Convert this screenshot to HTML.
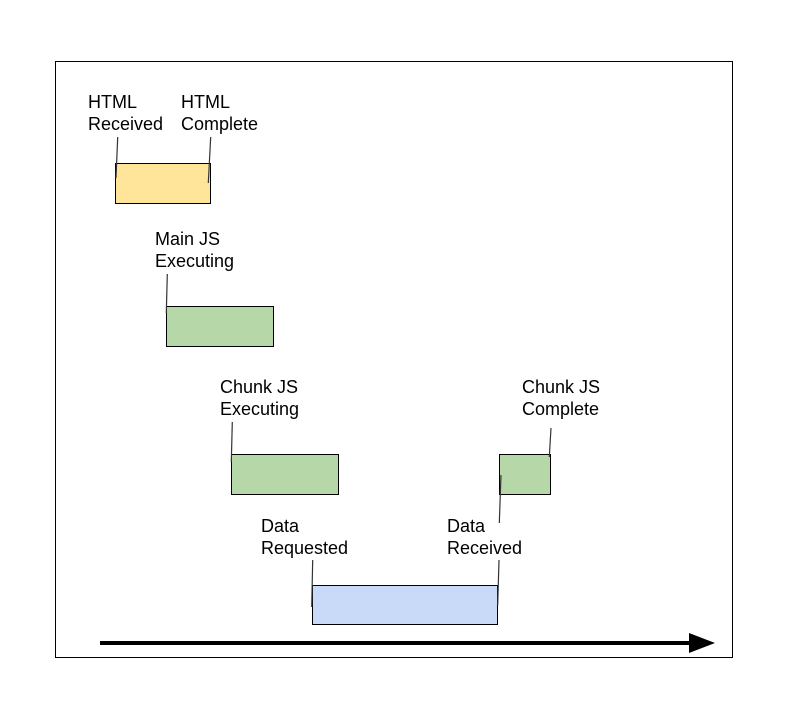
<!DOCTYPE html>
<html>
<head>
<meta charset="utf-8">
<style>
  html,body{margin:0;padding:0;background:#fff;}
  svg{display:block;}
  text{font-family:"Liberation Sans",Arial,sans-serif;font-size:18px;fill:#000;}
</style>
</head>
<body>
<svg width="785" height="719" viewBox="0 0 785 719" xmlns="http://www.w3.org/2000/svg">
  <rect x="0" y="0" width="785" height="719" fill="#fff"/>
  <!-- frame -->
  <rect x="55.5" y="61.5" width="677" height="596" fill="none" stroke="#000" stroke-width="1"/>

  <!-- boxes -->
  <rect x="115.5" y="163.5" width="95" height="40" fill="#ffe599" stroke="#000" stroke-width="1"/>
  <rect x="166.5" y="306.5" width="107" height="40" fill="#b6d7a8" stroke="#000" stroke-width="1"/>
  <rect x="231.5" y="454.5" width="107" height="40" fill="#b6d7a8" stroke="#000" stroke-width="1"/>
  <rect x="499.5" y="454.5" width="51" height="40" fill="#b6d7a8" stroke="#000" stroke-width="1"/>
  <rect x="312.5" y="585.5" width="185" height="39" fill="#c9daf8" stroke="#000" stroke-width="1"/>

  <!-- connectors -->
  <g stroke="#333" stroke-width="1.2" fill="none">
    <line x1="117.7" y1="137" x2="116" y2="178"/>
    <line x1="210.7" y1="137" x2="208.3" y2="183"/>
    <line x1="167.3" y1="274" x2="166.3" y2="313"/>
    <line x1="232.3" y1="422" x2="231.3" y2="462"/>
    <line x1="551" y1="428" x2="549.3" y2="457"/>
    <line x1="501" y1="475" x2="499.3" y2="523"/>
    <line x1="312.7" y1="560" x2="311.7" y2="607"/>
    <line x1="499" y1="560" x2="497.7" y2="605"/>
  </g>

  <!-- labels -->
  <text x="88" y="108">HTML</text>
  <text x="88" y="130">Received</text>
  <text x="181" y="108">HTML</text>
  <text x="181" y="130">Complete</text>
  <text x="155" y="245">Main JS</text>
  <text x="155" y="267">Executing</text>
  <text x="220" y="393">Chunk JS</text>
  <text x="220" y="415">Executing</text>
  <text x="522" y="393">Chunk JS</text>
  <text x="522" y="415">Complete</text>
  <text x="261" y="532">Data</text>
  <text x="261" y="554">Requested</text>
  <text x="447" y="532">Data</text>
  <text x="447" y="554">Received</text>

  <!-- timeline arrow -->
  <line x1="100" y1="643" x2="692" y2="643" stroke="#000" stroke-width="4"/>
  <polygon points="689,633 715,643 689,653" fill="#000"/>
</svg>
</body>
</html>
